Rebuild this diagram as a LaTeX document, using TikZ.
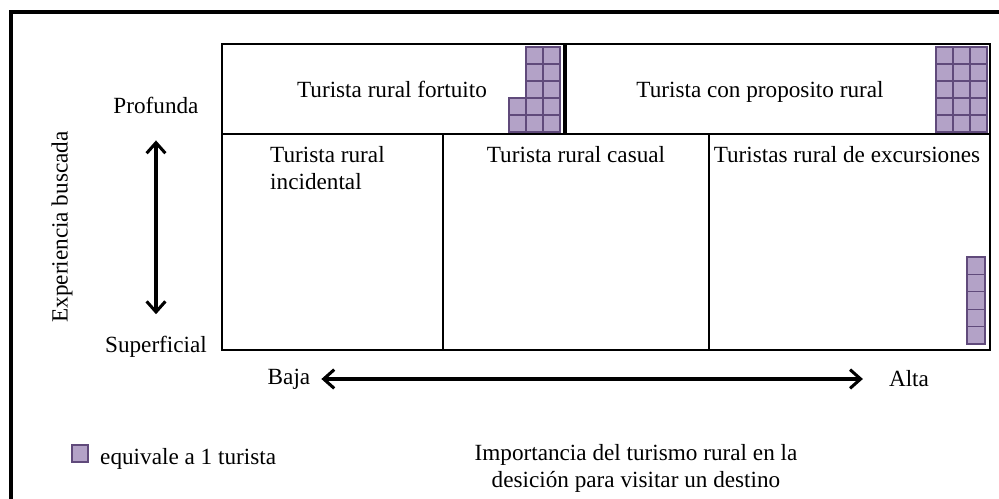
\documentclass[tikz,border=0pt]{standalone}
\usepackage{fontspec}
\setmainfont{Liberation Serif}
\usetikzlibrary{arrows.meta,positioning}
\definecolor{tilefill}{RGB}{179,162,199}
\definecolor{tileedge}{RGB}{96,74,123}

\begin{document}
\begin{tikzpicture}[x=0.3mm,y=0.3mm,
    every node/.style={font=\fontsize{19.8}{23}\selectfont},
    grid/.style={line width=1.6pt},
    tile/.style={fill=tilefill,draw=tileedge,line width=1.1pt},
    biarrow/.style={line width=2.6pt,{Straight Barb[length=9pt,width=16pt]}-{Straight Barb[length=9pt,width=16pt]}}]
    \useasboundingbox (0,0) rectangle (999,499);
    % outer frame
    \draw[line width=3pt] (11,0) -- (11,487) -- (999,487);

    % cells
    \draw[grid] (222,365) rectangle (564,455);
    \draw[grid] (566,365) rectangle (990,455);
    \draw[grid] (222,149) rectangle (990,365);
    \draw[grid] (443,149) -- (443,365);
    \draw[grid] (709,149) -- (709,365);

    % tiles: one per tourist
    \foreach \c in {0,1}
      \foreach \r in {0,...,4}
        \draw[tile] (526+17*\c,367+17*\r) rectangle ++(17,17);
    \foreach \r in {0,1}
      \draw[tile] (509,367+17*\r) rectangle ++(17,17);
    \foreach \c in {0,1,2}
      \foreach \r in {0,...,4}
        \draw[tile] (936+17*\c,367+17*\r) rectangle ++(17,17);
    \foreach \r in {0,...,4}
      \draw[tile] (967,155+17.4*\r) rectangle ++(18,17.4);

    % cell labels
    \node (fortuito) at (392,410) {Turista rural fortuito};
    \node (proposito) at (760,407) {Turista con proposito rural};
    \node[anchor=west,align=left,inner sep=0pt] (incidental) at (270,331) {Turista rural\\incidental};
    \node (casual) at (576,344) {Turista rural casual};
    \node (excursiones) at (847,344) {Turistas rural de excursiones};

    % vertical axis
    \node (profunda) at (156,394) {Profunda};
    \node (superficial) at (156,152) {Superficial};
    \node[rotate=90] (experiencia) at (62,272) {Experiencia buscada};
    \draw[biarrow,shorten <=6.9mm,shorten >=5.4mm] (profunda) -- (superficial);

    % horizontal axis
    \node (baja) at (289,120) {Baja};
    \node (alta) at (909,120) {Alta};
    \draw[biarrow,shorten <=2.1mm,shorten >=6.6mm] (baja) -- (alta);
    \node[align=center] (importancia) at (636,31) {Importancia del turismo rural en la\\desición para visitar un destino};

    % legend
    \draw[tile] (72,37) rectangle (88,54);
    \node[anchor=west,inner sep=0pt] (leyenda) at (100,40) {equivale a 1 turista};
  \end{tikzpicture}
\end{document}
